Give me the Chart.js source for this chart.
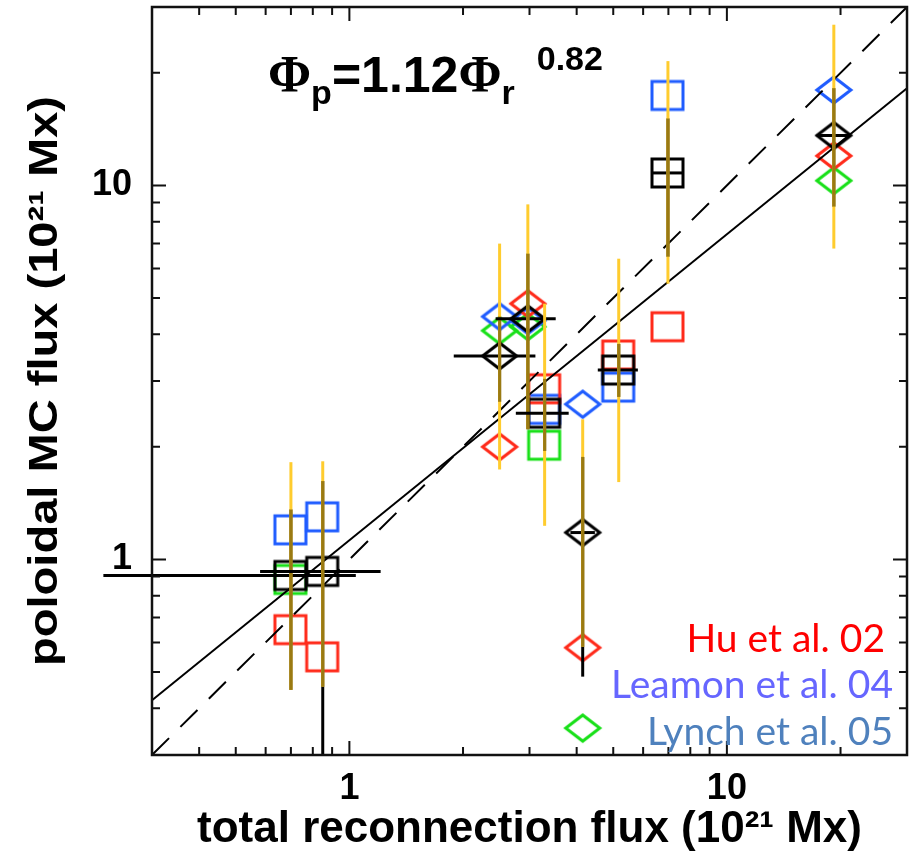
<!DOCTYPE html>
<html>
<head>
<meta charset="utf-8">
<script src="https://cdn.jsdelivr.net/npm/chart.js@4.4.1/dist/chart.umd.min.js"></script>
<style>
  html, body { margin: 0; padding: 0; background: #fff; }
  #wrap { width: 915px; height: 856px; }
</style>
</head>
<body>
<div id="wrap"><canvas id="fluxChart" width="915" height="856"></canvas></div>
<script>
// total reconnection flux of each event (10^21 Mx)
const eventFlux  = [0.70, 0.85, 2.50, 2.97, 3.29, 4.15, 5.17, 6.98, 19.2];
// marker shape per event: square or diamond
const eventShape = ['sq', 'sq', 'dia', 'dia', 'sq', 'dia', 'sq', 'sq', 'dia'];

// poloidal MC flux per study (10^21 Mx), null = no value
const huFlux     = [0.649, 0.549, 2.00, 4.83, 2.86, 0.581, 3.52, 4.19, 12.0];
const leamonFlux = [1.20, 1.30, 4.46, 4.35, 2.52, 2.60, 2.89, 17.4, 18.0];
const lynchFlux  = [0.884, null, 4.09, 4.19, 2.02, 0.354, null, null, 10.3];
const meanFlux   = [0.906, 0.929, 3.50, 4.40, 2.46, 1.18, 3.21, 10.8, 13.6];

// spread of the mean (black bars)
const meanLow  = [0.448, 0.30, 2.64, 2.23, 1.95, 0.486, 2.72, 6.45, 8.78];
const meanHigh = [1.36, 1.62, 4.46, 6.57, 3.04, 1.88, 3.77, 15.1, 18.2];
// full uncertainty range (yellow bars)
const rangeLow  = [0.448, 0.457, 1.74, 2.23, 1.23, 0.584, 1.61, 5.46, 6.78];
const rangeHigh = [1.82, 1.83, 6.99, 8.90, 4.83, 2.37, 6.37, 21.5, 26.9];
// reconnection flux uncertainty (horizontal bars)
const fluxLow  = [0.223, 0.58, 1.89, 2.44, 2.76, 3.85, 4.55, 6.34, 17.3];
const fluxHigh = [1.04, 1.21, 3.11, 3.52, 3.81, 4.47, 5.81, 7.68, 21.3];

// reference lines
const equalX = [0.3, 30];
const equalY = [0.3, 30];
const fitX = [0.3, 30];
const fitY = [0.42, 18.2];

// axis ticks
const majorTicks = [1, 10];
const minorTicks = [0.4, 0.5, 0.6, 0.7, 0.8, 0.9, 2, 3, 4, 5, 6, 7, 8, 9, 20];

const studies = [
    { label: 'Hu et al. 02', values: huFlux, color: '#ff2a1a', text: '#ff0000' },
    { label: 'Leamon et al. 04', values: leamonFlux, color: '#1f5cff', text: '#6666ff' },
    { label: 'Lynch et al. 05', values: lynchFlux, color: '#18e018', text: '#4f81bd' }
];

// hollow square / diamond markers
function makeMarker(shape, color) {
    const c = document.createElement('canvas');
    c.width = 40; c.height = 36;
    const g = c.getContext('2d');
    g.strokeStyle = color;
    g.lineWidth = 3;
    if (shape === 'sq') {
        g.strokeRect(4, 4, 31, 28);
    } else {
        g.beginPath();
        g.moveTo(3, 18); g.lineTo(20, 5); g.lineTo(37, 18); g.lineTo(20, 31);
        g.closePath();
        g.stroke();
    }
    return c;
}

function pointsFor(values) {
    const pts = [];
    values.forEach((v, i) => {
        if (v !== null) pts.push({ x: eventFlux[i], y: v, shape: eventShape[i] });
    });
    return pts;
}

function markerDataset(label, values, color, order) {
    const sq = makeMarker('sq', color);
    const dia = makeMarker('dia', color);
    return {
        type: 'scatter',
        label: label,
        data: pointsFor(values),
        order: order,
        pointStyle: ctx => (ctx.raw && ctx.raw.shape === 'dia') ? dia : sq,
        pointRadius: 14,
        clip: false
    };
}

// error bars: black, yellow, and olive where they overlap
const errorBars = {
    id: 'errorBars',
    afterDatasetsDraw(chart) {
        const { ctx, scales: { x, y } } = chart;
        ctx.save();
        ctx.lineCap = 'butt';
        ctx.lineWidth = 3;
        eventFlux.forEach((fx, i) => {
            const px = x.getPixelForValue(fx);
            const py = y.getPixelForValue(meanFlux[i]);
            // horizontal bar
            ctx.strokeStyle = '#000';
            ctx.beginPath();
            ctx.moveTo(x.getPixelForValue(fluxLow[i]), py);
            ctx.lineTo(x.getPixelForValue(fluxHigh[i]), py);
            ctx.stroke();
            // vertical black bar
            ctx.beginPath();
            ctx.moveTo(px, y.getPixelForValue(meanLow[i]));
            ctx.lineTo(px, y.getPixelForValue(meanHigh[i]));
            ctx.stroke();
            // yellow range
            ctx.strokeStyle = '#ffcc2e';
            ctx.beginPath();
            ctx.moveTo(px, y.getPixelForValue(rangeLow[i]));
            ctx.lineTo(px, y.getPixelForValue(rangeHigh[i]));
            ctx.stroke();
            // overlap
            const lo = Math.max(meanLow[i], rangeLow[i]);
            const hi = Math.min(meanHigh[i], rangeHigh[i]);
            if (hi > lo) {
                ctx.strokeStyle = '#9a7a12';
                ctx.beginPath();
                ctx.moveTo(px, y.getPixelForValue(lo));
                ctx.lineTo(px, y.getPixelForValue(hi));
                ctx.stroke();
            }
        });
        ctx.restore();
    }
};

// IDL-style box with inward ticks on all four sides
const frame = {
    id: 'frame',
    afterDraw(chart) {
        const { ctx, chartArea: a, scales: { x, y } } = chart;
        ctx.save();
        ctx.strokeStyle = '#111';
        ctx.lineWidth = 2.5;
        ctx.strokeRect(a.left, a.top, a.right - a.left, a.bottom - a.top);
        const tick = (v, len) => {
            const px = x.getPixelForValue(v);
            const py = y.getPixelForValue(v);
            ctx.beginPath();
            ctx.moveTo(px, a.bottom); ctx.lineTo(px, a.bottom - len);
            ctx.moveTo(px, a.top); ctx.lineTo(px, a.top + len);
            ctx.moveTo(a.left, py); ctx.lineTo(a.left + len, py);
            ctx.moveTo(a.right, py); ctx.lineTo(a.right - len, py);
            ctx.stroke();
        };
        ctx.lineWidth = 2;
        majorTicks.forEach(v => tick(v, 14));
        minorTicks.forEach(v => tick(v, 8));
        ctx.restore();
    }
};

// fit formula, y-axis title and study labels
const annotations = {
    id: 'annotations',
    afterDraw(chart) {
        const { ctx, chartArea: a } = chart;
        ctx.save();
        ctx.fillStyle = '#000';
        ctx.textBaseline = 'alphabetic';
        ctx.textAlign = 'left';
        let cx = 268;
        const base = 92;
        const put = (txt, font, dy) => {
            ctx.font = font;
            ctx.fillText(txt, cx, base + dy);
            cx += ctx.measureText(txt).width;
        };
        put('\u03A6', 'bold 52px "Liberation Serif"', 0);
        put('p', 'bold 34px "Liberation Sans"', 12);
        put('=1.12', 'bold 50px "Liberation Sans"', 0);
        put('\u03A6', 'bold 52px "Liberation Serif"', 0);
        put('r', 'bold 34px "Liberation Sans"', 12);
        cx += 22;
        put('0.82', 'bold 34px "Liberation Sans"', -22);

        // y-axis title, set tight along the axis
        const yTitle = 'poloidal MC flux (10\u00B2\u00B9 Mx)';
        ctx.save();
        ctx.font = 'bold 40px "Liberation Sans"';
        const w = ctx.measureText(yTitle).width;
        ctx.translate(57, (a.top + a.bottom) / 2);
        ctx.rotate(-Math.PI / 2);
        ctx.scale(570 / w, 1);
        ctx.textAlign = 'center';
        ctx.fillText(yTitle, 0, 0);
        ctx.restore();

        ctx.textAlign = 'right';
        ctx.font = '39px Lato';
        const baselines = [652, 698, 745];
        studies.forEach((s, i) => {
            ctx.fillStyle = s.text;
            ctx.fillText(s.label, i === 0 ? 885 : 893, baselines[i]);
        });
        ctx.restore();
    }
};

const datasets = [
    {
        type: 'line', label: 'equal', order: 1,
        data: equalX.map((v, i) => ({ x: v, y: equalY[i] })),
        borderColor: '#000', borderWidth: 2, borderDash: [24, 16],
        pointRadius: 0, fill: false
    },
    {
        type: 'line', label: 'fit', order: 1,
        data: fitX.map((v, i) => ({ x: v, y: fitY[i] })),
        borderColor: '#000', borderWidth: 2,
        pointRadius: 0, fill: false
    },
    markerDataset('mean', meanFlux, '#000', 2)
];
studies.forEach((s, i) => datasets.push(markerDataset(s.label, s.values, s.color, 3 + i)));

const tickFont = { family: '"Liberation Sans"', size: 36, weight: 'bold' };
const noPad = s => { s.paddingTop = 0; s.paddingBottom = 0; s.paddingLeft = 0; s.paddingRight = 0; };

new Chart(document.getElementById('fluxChart'), {
    data: { datasets: datasets },
    options: {
        responsive: false,
        animation: false,
        events: [],
        layout: { autoPadding: false, padding: { left: 0, top: 7, right: 8, bottom: 0 } },
        plugins: { legend: { display: false }, tooltip: { enabled: false } },
        scales: {
            x: {
                type: 'logarithmic', min: 0.3, max: 30,
                afterBuildTicks: s => { s.ticks = majorTicks.map(v => ({ value: v })); },
                afterFit: s => { s.height = 101; noPad(s); },
                grid: { display: false },
                border: { display: false },
                ticks: { color: '#000', font: tickFont, padding: 4, autoSkip: false, maxRotation: 0,
                         callback: v => String(v) },
                title: { display: true, text: 'total reconnection flux (10\u00B2\u00B9 Mx)', color: '#000',
                         font: { family: '"Liberation Sans"', size: 44, weight: 'bold' },
                         padding: { top: 0, bottom: 0 } }
            },
            y: {
                type: 'logarithmic', min: 0.3, max: 30,
                afterBuildTicks: s => { s.ticks = majorTicks.map(v => ({ value: v })); },
                afterFit: s => { s.width = 152; noPad(s); },
                grid: { display: false },
                border: { display: false },
                ticks: { color: '#000', font: tickFont, padding: 12, autoSkip: false,
                         callback: v => String(v) }
            }
        }
    },
    plugins: [errorBars, frame, annotations]
});
</script>
</body>
</html>
